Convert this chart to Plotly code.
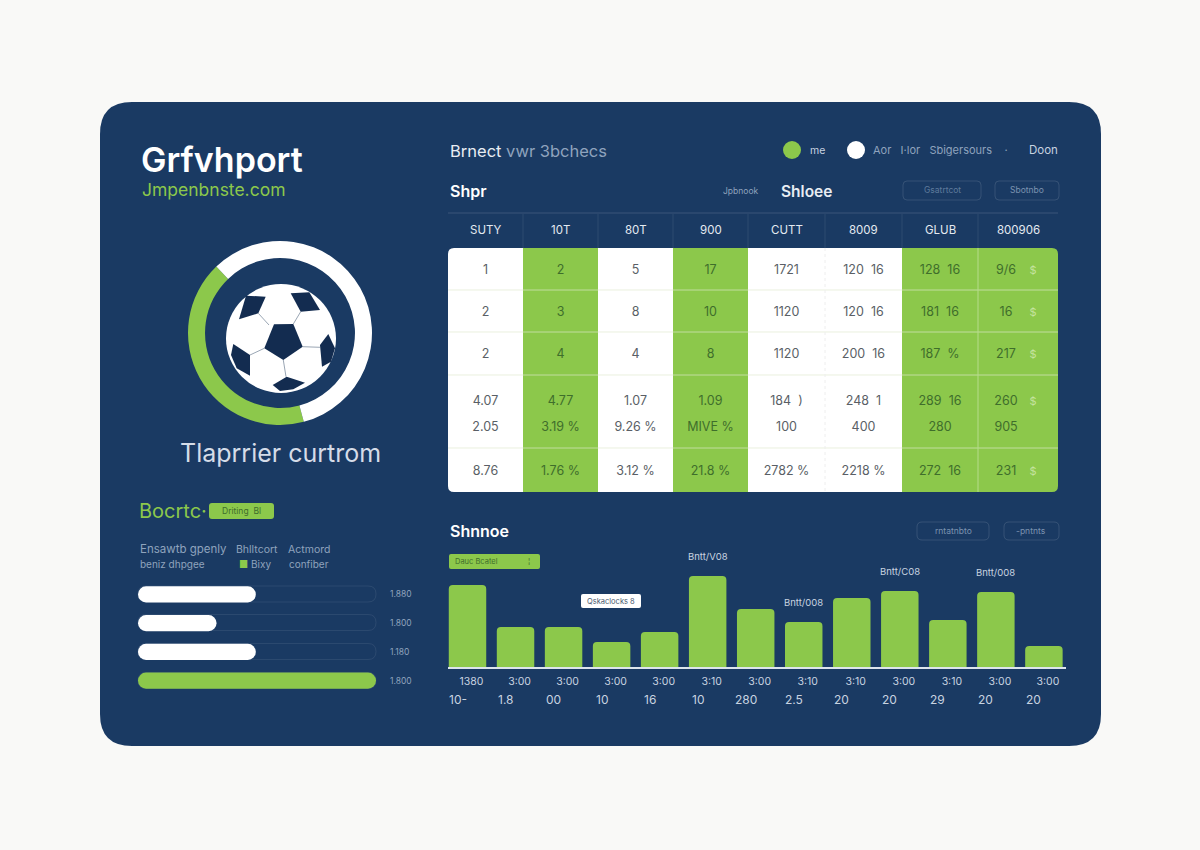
import plotly.graph_objects as go

NAVY = "#1A3A63"
GREEN = "#8CC84B"
PAGE = "#F9F9F7"
DARKGREEN = "#3F6E2B"
GREY = "#8FA3BD"
FONT = "Inter"

# table
table_head = ["SUTY", "10T", "80T", "900", "CUTT", "8009", "GLUB", "800906"]
table_text = [
    ["1", "2", "5", "17", "1721", "120  16", "128  16", "9/6"],
    ["2", "3", "8", "10", "1120", "120  16", "181  16", "16"],
    ["2", "4", "4", "8", "1120", "200  16", "187  %", "217"],
    ["4.07", "4.77", "1.07", "1.09", "184  )", "248  1", "289  16", "260"],
    ["2.05", "3.19 %", "9.26 %", "MIVE %", "100", "400", "280", "905"],
    ["8.76", "1.76 %", "3.12 %", "21.8 %", "2782 %", "2218 %", "272  16", "231"],
]
table_marks = ["$", "$", "$", "$", "", "$"]
col_green = [0, 1, 0, 1, 0, 0, 1, 1]
col_widths = [75, 75, 75, 75, 77, 77, 76, 80]
row_heights = [42, 42, 43, 73, 44]

# bottom bars
bar_values = [82, 40, 40, 25, 35, 91, 58, 45, 69, 76, 47, 75, 21]
bar_ticks_1 = ["1380", "3:00", "3:00", "3:00", "3:00", "3:10", "3:00", "3:10", "3:10", "3:00", "3:10", "3:00", "3:00"]
bar_ticks_2 = ["10-", "1.8", "00", "10", "16", "10", "280", "2.5", "20", "20", "29", "20", "20"]
bar_notes = {5: "Bntt/V08", 7: "Bntt/008", 9: "Bntt/C08", 11: "Bntt/008"}

# progress bars
progress_values = [49.5, 33, 49.5, 100]
progress_labels = ["1.880", "1.800", "1.180", "1.800"]
progress_colors = ["white", "white", "white", GREEN]

# ring
ring_labels = ["green", "white"]
ring_values = [42, 58]

# legend dots
legend_x = [792, 856]
legend_colors = [GREEN, "white"]

fig = go.Figure()


def label(x, y, text, size, color=GREY, anchor="left", weight=None):
    fig.add_annotation(x=x, y=y, xref="x", yref="y", text=text, showarrow=False, xanchor=anchor,
                       yanchor="middle", font=dict(size=size, color=color, family=FONT, weight=weight))


def box(x0, y0, x1, y1, r, fill="rgba(0,0,0,0)", line="rgba(0,0,0,0)", layer="below"):
    path = (f"M{x0+r},{y0} L{x1-r},{y0} Q{x1},{y0} {x1},{y0+r} L{x1},{y1-r} Q{x1},{y1} {x1-r},{y1} "
            f"L{x0+r},{y1} Q{x0},{y1} {x0},{y1-r} L{x0},{y0+r} Q{x0},{y0} {x0+r},{y0} Z")
    fig.add_shape(type="path", path=path, xref="x", yref="y", fillcolor=fill,
                  line=dict(color=line, width=1), layer=layer)


def hline(x0, x1, y, color, layer="below"):
    fig.add_shape(type="line", xref="x", yref="y", x0=x0, x1=x1, y0=y, y1=y,
                  line=dict(color=color, width=1), layer=layer)


def vline(x, y0, y1, color, layer="below", dash="solid"):
    fig.add_shape(type="line", xref="x", yref="y", x0=x, x1=x, y0=y0, y1=y1,
                  line=dict(color=color, width=1, dash=dash), layer=layer)


# panel
box(100, 102, 1101, 746, 32, fill=NAVY)

# legend dots, these also keep the page axes alive
fig.add_trace(go.Scatter(x=legend_x, y=[150, 150], mode="markers", xaxis="x", yaxis="y", showlegend=False,
                         marker=dict(size=18, color=legend_colors)))

# table cells
col_edges = [0]
for w in col_widths:
    col_edges.append(col_edges[-1] + w)
row_edges = [0]
for h in row_heights:
    row_edges.append(row_edges[-1] + h)
fig.add_trace(go.Heatmap(x=col_edges, y=row_edges, z=[col_green for r in row_heights], xaxis="x2", yaxis="y2",
                         colorscale=[[0, "white"], [1, GREEN]], zmin=0, zmax=1, showscale=False, hoverinfo="skip"))

text_rows_y = [23, 65, 107, 154, 180, 224]
tx, ty, tt, tc = [], [], [], []
for r, row in enumerate(table_text):
    for c, val in enumerate(row):
        tx.append((col_edges[c] + col_edges[c + 1]) / 2 - (12 if c == 7 else 0))
        ty.append(text_rows_y[r])
        tt.append(val)
        tc.append(DARKGREEN if col_green[c] else "#5A5F66")
fig.add_trace(go.Scatter(x=tx, y=ty, text=tt, mode="text", xaxis="x2", yaxis="y2", showlegend=False,
                         textfont=dict(size=12.5, color=tc, family=FONT)))
mark_x = [col_edges[7] + 55] * len(table_marks)
fig.add_trace(go.Scatter(x=mark_x, y=text_rows_y, text=table_marks, mode="text", xaxis="x2", yaxis="y2",
                         showlegend=False, textfont=dict(size=11, color="#C5E39F", family=FONT)))

# table head and rules
hline(448, 1058, 213, "rgba(255,255,255,0.14)")
for e in col_edges[1:-1]:
    vline(448 + e, 214, 248, "rgba(255,255,255,0.09)")
for i, name in enumerate(table_head):
    label(448 + (col_edges[i] + col_edges[i + 1]) / 2, 230, name, 11.5, "#E4EAF1", "center")
for e in row_edges[1:-1]:
    hline(448, 1058, 248 + e, "rgba(222,232,205,0.65)", "above")
vline(448 + col_edges[7], 248, 492, "#B6DC8C", "above")
vline(448 + col_edges[5], 248, 492, "#EEEEEE", "above", "dot")
fig.add_shape(type="path", xref="x", yref="y", layer="above", fillcolor=NAVY, line=dict(width=0),
              path="M448,248 L454,248 Q448,248 448,254 Z M1058,248 L1052,248 Q1058,248 1058,254 Z "
                   "M448,492 L454,492 Q448,492 448,486 Z M1058,492 L1052,492 Q1058,492 1058,486 Z")

# bottom bar chart
fig.add_trace(go.Bar(x=list(range(len(bar_values))), y=bar_values, xaxis="x3", yaxis="y3", showlegend=False,
                     width=0.78, marker=dict(color=GREEN, cornerradius=4, line=dict(width=0))))
for i, note in bar_notes.items():
    fig.add_annotation(x=i, y=bar_values[i], xref="x3", yref="y3", text=note, showarrow=False, yshift=20,
                       font=dict(size=9.5, color="#C8D3E0", family=FONT))
for i, t in enumerate(bar_ticks_2):
    fig.add_annotation(x=i, y=699, xref="x3", yref="y", text=t, showarrow=False, xshift=-10,
                       font=dict(size=12, color="#C8D3E0", family=FONT))

# progress bars: a small base makes cornerradius round both ends of the fill
progress_rows = list(range(len(progress_values)))
for y in [594, 622.5, 651.5, 680.5]:
    box(138, y - 8, 376, y + 8, 8, line="rgba(255,255,255,0.08)")
fig.add_trace(go.Bar(x=progress_values, base=0.01, y=progress_rows, orientation="h",
                     xaxis="x4", yaxis="y4", showlegend=False, width=0.56,
                     marker=dict(color=progress_colors, cornerradius=8, line=dict(width=0))))

# ring
fig.add_trace(go.Pie(labels=ring_labels, values=ring_values, hole=0.815, sort=False, direction="clockwise",
                     rotation=165, textinfo="none", showlegend=False, hoverinfo="skip",
                     marker=dict(colors=[GREEN, "white"], line=dict(width=0)),
                     domain=dict(x=[188 / 1200, 372 / 1200], y=[1 - 425 / 850, 1 - 241 / 850])))


def ball_pt(p):
    return f"{170 + p[0] / 3:.1f},{230 + p[1] / 3:.1f}"


def ball_path(points, close=True):
    return "M" + " L".join(ball_pt(p) for p in points) + (" Z" if close else "")


fig.add_shape(type="circle", xref="x", yref="y", x0=226, x1=336, y0=284, y1=393, fillcolor="white",
              line=dict(width=0), layer="above")
ball_seams = [
    [(265, 250), (297, 285)], [(392, 245), (370, 282)], [(398, 350), (450, 352)],
    [(283, 355), (240, 375)], [(340, 390), (348, 440)],
]
for seam in ball_seams:
    fig.add_shape(type="path", path=ball_path(seam, False), xref="x", yref="y", layer="above",
                  line=dict(color="#9AA6B4", width=1))
ball_patches = [
    [(312, 283), (370, 282), (398, 350), (340, 390), (283, 355)],
    [(228, 197), (287, 200), (265, 250), (207, 268)],
    [(362, 190), (418, 187), (450, 240), (392, 245)],
    [(475, 312), (495, 355), (483, 395), (456, 410), (450, 345)],
    [(190, 342), (240, 375), (240, 437), (200, 415), (183, 375)],
    [(350, 440), (405, 458), (370, 478), (330, 483), (308, 465)],
]
for patch in ball_patches:
    fig.add_shape(type="path", path=ball_path(patch), xref="x", yref="y", layer="above",
                  fillcolor="#132C50", line=dict(width=0))

# left column text
label(139, 159, "Grfvhport", 34, "white", weight=600)
label(140, 189, "Jmpenbnste.com", 17.5, GREEN)
label(280, 453, "Tlaprrier curtrom", 25, "#D5DCE8", "center")
label(137, 511, "Bocrtc·", 20, GREEN)
box(209, 503, 274, 519, 3, fill=GREEN)
label(241, 511, "Driting  Bl", 8.5, DARKGREEN, "center")
label(138, 549, "Ensawtb gpenly", 11.5, GREY)
label(234, 549, "Bhlltcort", 10.5, GREY)
label(286, 549, "Actmord", 10.5, GREY)
label(138, 564, "beniz dhpgee", 10, GREY)
label(237, 564, "<span style='color:#8CC84B'>■</span> Bixy", 10, GREY)
label(287, 564, "confiber", 10, GREY)

# top right text
label(448, 151, "Brnect <span style='color:#8FA3BD'>vwr 3bchecs</span>", 16.5, "#E8EDF3")
label(808, 150, "me", 10.5, "#C8D3E0")
label(871, 150, "Aor   I·lor   Sbigersours    ·", 11, GREY)
label(1027, 150, "Doon", 11.5, "#C8D3E0")
label(448, 191, "Shpr", 16, "white", weight=600)
label(721, 191, "Jpbnook", 8.5, GREY)
label(779, 191, "Shloee", 15.5, "#E8EDF3", weight=600)
box(903, 181, 981, 200, 4, line="rgba(255,255,255,0.12)")
label(942, 190, "Gsatrtcot", 8.5, "#5F7A9C", "center")
box(995, 181, 1059, 200, 4, line="rgba(255,255,255,0.12)")
label(1027, 190, "Sbotnbo", 8.5, "#7C93B0", "center")

# chart header
label(448, 531, "Shnnoe", 16, "white", weight=600)
box(917, 522, 989, 540, 5, line="rgba(255,255,255,0.12)")
label(953, 531, "rntatnbto", 8.5, "#7C93B0", "center")
box(1004, 522, 1059, 540, 5, line="rgba(255,255,255,0.12)")
label(1031, 531, "-pntnts", 8.5, "#7C93B0", "center")
box(449, 554, 540, 569, 2, fill=GREEN, layer="above")
label(453, 561, "Dauc Bcatel", 7.5, DARKGREEN)
label(526, 561, "¦", 8, DARKGREEN)
box(581, 594, 641, 608, 2, fill="white", layer="above")
label(611, 601, "Qskaclocks 8", 7.5, "#4A5A70", "center")

fig.update_layout(
    width=1200, height=850, margin=dict(l=0, r=0, t=0, b=0), paper_bgcolor=PAGE, plot_bgcolor="rgba(0,0,0,0)",
    barmode="overlay", showlegend=False,
    xaxis=dict(domain=[0, 1], range=[0, 1200], visible=False, anchor="y"),
    yaxis=dict(domain=[0, 1], range=[850, 0], visible=False, anchor="x"),
    xaxis2=dict(domain=[448 / 1200, 1058 / 1200], range=[0, sum(col_widths)], visible=False, anchor="y2"),
    yaxis2=dict(domain=[1 - 492 / 850, 1 - 248 / 850], range=[sum(row_heights), 0], visible=False, anchor="x2"),
    xaxis3=dict(domain=[448 / 1200, 1066 / 1200], range=[-0.406, 12.46], anchor="y3", showgrid=False, zeroline=False,
                showline=True, linecolor="#DCE4EC", linewidth=2, ticks="", tickmode="array",
                tickvals=list(range(len(bar_ticks_1))), ticktext=bar_ticks_1, ticklabelshift=4, ticklabelstandoff=3,
                tickfont=dict(size=10.5, color="#C8D3E0", family=FONT)),
    yaxis3=dict(domain=[1 - 667 / 850, 1 - 567 / 850], range=[0, 100], visible=False, anchor="x3"),
    xaxis4=dict(domain=[138 / 1200, 376 / 1200], range=[0, 100.02], visible=False, anchor="y4"),
    yaxis4=dict(domain=[1 - 695 / 850, 1 - 580 / 850], range=[3.5, -0.5], anchor="x4", side="right", showgrid=False,
                zeroline=False, showline=False, ticks="", tickmode="array", tickvals=progress_rows,
                ticktext=progress_labels, ticklabelstandoff=13, tickfont=dict(size=8.5, color=GREY, family=FONT)),
)

fig.write_html("out.html", post_script="document.body.style.margin='0';", config=dict(displayModeBar=False))
